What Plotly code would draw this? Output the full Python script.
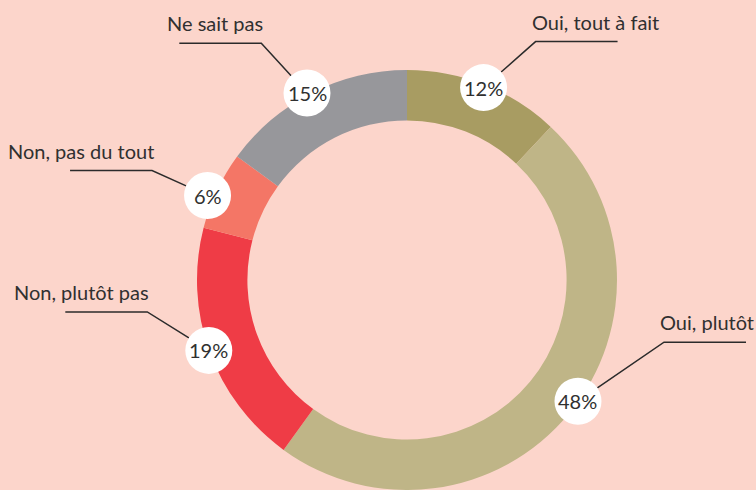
import math
import plotly.graph_objects as go

# ---- data ----
categories = ["Oui, tout à fait", "Oui, plutôt", "Non, plutôt pas", "Non, pas du tout", "Ne sait pas"]
values = [12, 48, 19, 6, 15]
pct_labels = ["12%", "48%", "19%", "6%", "15%"]

# ---- style / layout ----
colors = ["#A89C62", "#BFB587", "#EF3C46", "#F47666", "#97979B"]
BG = "#FCD5CB"
W, H = 756, 490
CX, CY, R = 407, 281, 211          # pie centre / radius in px
HOLE = 0.76
label_angle_shift = [0, -4.5, 0.5, -2, -1]   # deg, tweak of bubble position
label_radius = [208, 209, 210, 217, 213]     # px from centre
elbow_offset = [(52, -46), (86, -59), (-61.5, -38.5), (-55.5, -25), (-45.7, -49.7)]
SEG = 82
BUBBLE_R = 23.5
FONT = "Lato"
TXT = "#303030"


def px(x):
    return x / W


def py(y):
    return 1 - y / H


fig = go.Figure(go.Pie(
    labels=categories, values=values, sort=False, direction="clockwise",
    rotation=0, hole=HOLE, textinfo="none", hoverinfo="label+percent",
    marker=dict(colors=colors, line=dict(width=0)),
    domain=dict(x=[px(CX - R), px(CX + R)], y=[max(0, py(CY + R)), py(CY - R)]),
    showlegend=False,
))

shapes, annotations = [], []
total = sum(values)
cum = 0
for i, v in enumerate(values):
    mid = (cum + v / 2) / total * 360 + label_angle_shift[i]
    cum += v
    th = math.radians(mid)
    bx = CX + label_radius[i] * math.sin(th)
    by = CY - label_radius[i] * math.cos(th)
    ex, ey = bx + elbow_offset[i][0], by + elbow_offset[i][1]
    d = math.hypot(ex - bx, ey - by)
    sx, sy = bx + (ex - bx) / d * BUBBLE_R, by + (ey - by) / d * BUBBLE_R
    right = ex > bx
    hx = ex + SEG if right else ex - SEG
    path = f"M {px(sx)} {py(sy)} L {px(ex)} {py(ey)} L {px(hx)} {py(ey)}"
    shapes.append(dict(type="path", xref="paper", yref="paper", path=path,
                       line=dict(color="#2B2B2B", width=1.5)))
    shapes.append(dict(type="circle", xref="paper", yref="paper",
                       x0=px(bx - BUBBLE_R), x1=px(bx + BUBBLE_R),
                       y0=py(by + BUBBLE_R), y1=py(by - BUBBLE_R),
                       fillcolor="white", line=dict(width=0)))
    annotations.append(dict(x=px(bx), y=py(by), xref="paper", yref="paper",
                            text=pct_labels[i], showarrow=False,
                            font=dict(family=FONT, size=20, color=TXT),
                            xanchor="center", yanchor="middle"))
    annotations.append(dict(x=px(ex + (-6 if right else 4)), y=py(ey - 20), xref="paper", yref="paper",
                            text=categories[i], showarrow=False,
                            font=dict(family=FONT, size=20, color=TXT),
                            xanchor="left" if right else "right", yanchor="middle"))

fig.update_layout(
    width=W, height=H, margin=dict(l=0, r=0, t=0, b=0),
    paper_bgcolor=BG, plot_bgcolor=BG,
    shapes=shapes, annotations=annotations,
)
fig.write_html(
    "out.html",
    config={"displayModeBar": False},
    post_script="document.body.style.margin='0';document.body.style.background='%s';" % BG,
)
